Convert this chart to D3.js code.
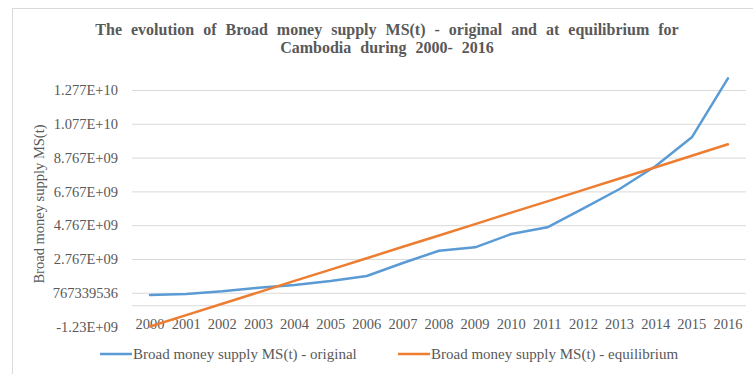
<!DOCTYPE html>
<html>
<head>
<meta charset="utf-8">
<script src="https://cdn.jsdelivr.net/npm/d3@7"></script>
<style>
  body { margin: 0; background: #fff; }
  svg text { font-family: "Liberation Serif", "Times New Roman", serif; fill: #595959; }
  .grid line { stroke: #d9d9d9; stroke-width: 1; }
</style>
</head>
<body>
<div id="chart"></div>
<script>
// data
const years = ["2000", "2001", "2002", "2003", "2004", "2005", "2006", "2007", "2008",
               "2009", "2010", "2011", "2012", "2013", "2014", "2015", "2016"];
const original = [0.634e9, 0.693e9, 0.853e9, 1.066e9, 1.226e9, 1.463e9, 1.759e9, 2.529e9, 3.257e9,
                  3.458e9, 4.245e9, 4.642e9, 5.767e9, 6.909e9, 8.271e9, 9.970e9, 13.46e9];
const equilibrium = [-1.23e9, -0.56e9, 0.12e9, 0.79e9, 1.47e9, 2.14e9, 2.81e9, 3.49e9, 4.16e9,
                     4.83e9, 5.51e9, 6.18e9, 6.86e9, 7.53e9, 8.20e9, 8.88e9, 9.555e9];
const yTicks = [-1.23e9, 767339536, 2.767e9, 4.767e9, 6.767e9, 8.767e9, 1.077e10, 1.277e10];
const yTickLabels = ["-1.23E+09", "767339536", "2.767E+09", "4.767E+09", "6.767E+09",
                     "8.767E+09", "1.077E+10", "1.277E+10"];
const seriesNames = ["Broad money supply MS(t) - original", "Broad money supply MS(t) - equilibrium"];
const titleLines = ["The evolution of Broad money supply MS(t) - original and at equilibrium  for",
                    "Cambodia during  2000- 2016"];

const W = 753, H = 374;
const colors = ["#5b9bd5", "#ed7d31"];

const svg = d3.select("#chart").append("svg")
    .attr("width", W)
    .attr("height", H);

// chart border
svg.append("rect")
    .attr("x", 12.5).attr("y", 8.5)
    .attr("width", 760).attr("height", 380)
    .attr("fill", "none")
    .attr("stroke", "#d9d9d9");

// title
svg.selectAll(".title")
    .data(titleLines)
    .enter().append("text")
    .attr("class", "title")
    .attr("x", 387)
    .attr("y", (d, i) => 35 + i * 18)
    .attr("text-anchor", "middle")
    .style("font-size", "16px")
    .style("font-weight", "bold")
    .style("word-spacing", "5px")
    .text(d => d);

// scales
const x = d3.scaleBand().domain(years).range([132, 746]);
const y = d3.scaleLinear().domain([-1.23e9, 1.277e10]).range([326.5, 90]);
const cx = d => x(d) + x.bandwidth() / 2;

// gridlines + y labels
const yAxis = d3.axisLeft(y)
    .tickValues(yTicks)
    .tickFormat((d, i) => yTickLabels[i])
    .tickSize(-(746 - 132))
    .tickPadding(14);

const gy = svg.append("g")
    .attr("class", "grid")
    .attr("transform", "translate(132,0)")
    .call(yAxis);
gy.select(".domain").remove();
gy.selectAll(".tick text").style("font-size", "14.5px");
gy.selectAll(".tick").filter(d => d === yTicks[0]).select("line").remove();

// category axis crossing at zero
svg.append("line")
    .attr("x1", 132).attr("x2", 746)
    .attr("y1", y(0)).attr("y2", y(0))
    .attr("stroke", "#d9d9d9");

// x labels
svg.selectAll(".xlab")
    .data(years)
    .enter().append("text")
    .attr("class", "xlab")
    .attr("x", d => cx(d))
    .attr("y", 329)
    .attr("text-anchor", "middle")
    .style("font-size", "14.5px")
    .text(d => d);

// y axis title
svg.append("text")
    .attr("transform", "translate(44,204) rotate(-90)")
    .attr("text-anchor", "middle")
    .style("font-size", "14.5px")
    .text("Broad money supply MS(t)");

// lines
const line = d3.line()
    .x((d, i) => cx(years[i]))
    .y(d => y(d));

[original, equilibrium].forEach((s, k) => {
    svg.append("path")
        .datum(s)
        .attr("d", line)
        .attr("fill", "none")
        .attr("stroke", colors[k])
        .attr("stroke-width", 2.5)
        .attr("stroke-linejoin", "round")
        .attr("stroke-linecap", "round");
});

// legend
const legendX = [100, 398];
seriesNames.forEach((name, k) => {
    const g = svg.append("g").attr("transform", "translate(" + legendX[k] + ",354)");
    g.append("line")
        .attr("x1", 0).attr("x2", 32)
        .attr("stroke", colors[k])
        .attr("stroke-width", 2.5);
    g.append("text")
        .attr("x", 33)
        .attr("y", 5)
        .style("font-size", "15px")
        .text(name);
});
</script>
</body>
</html>
